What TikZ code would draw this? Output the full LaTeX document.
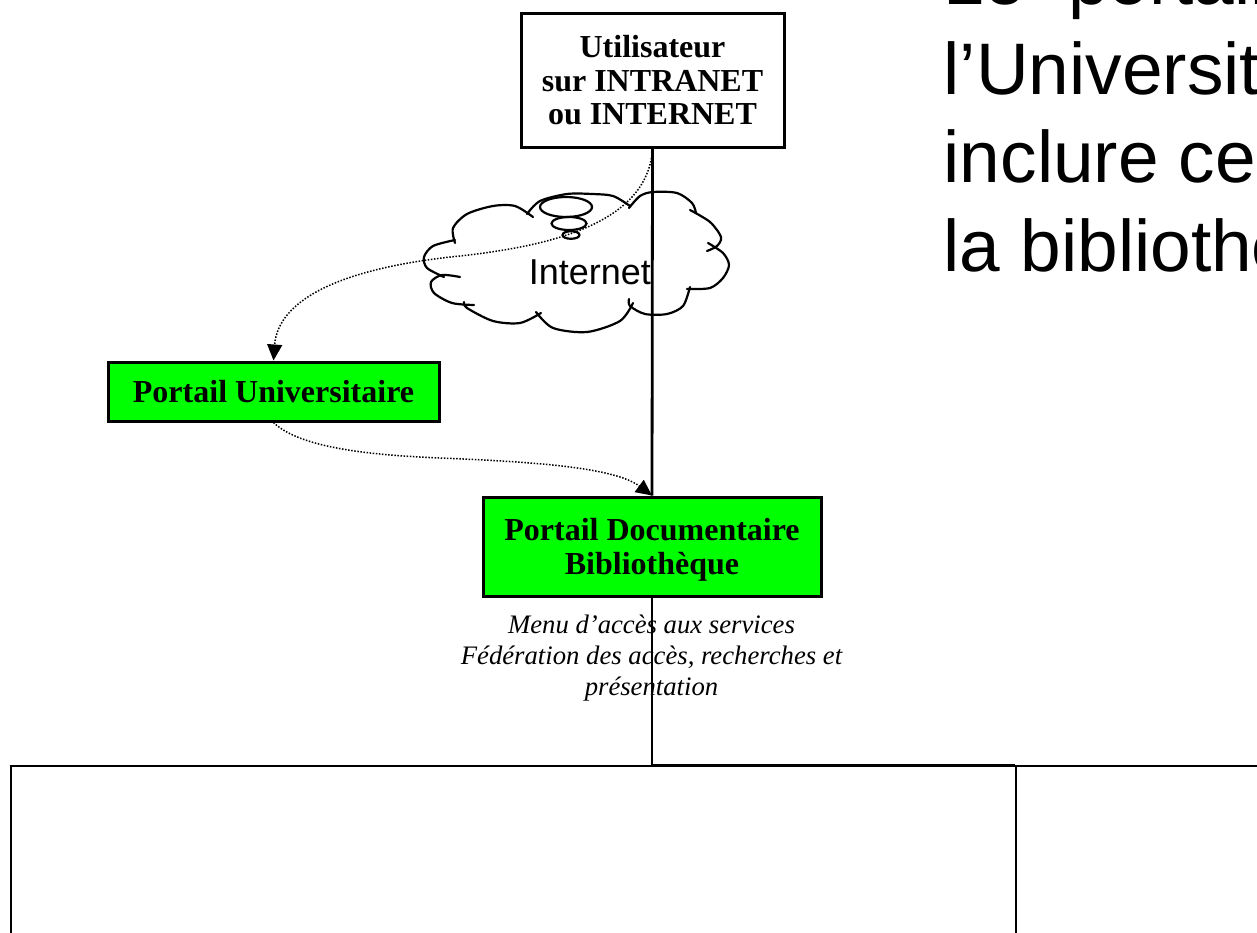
\documentclass[tikz,border=0pt]{standalone}
\usepackage{fontspec}
\setmainfont{Liberation Serif}
\newfontfamily\arialfont{Liberation Sans}
\usetikzlibrary{arrows.meta}
\definecolor{portalgreen}{RGB}{0,255,0}
\tikzset{
  frame/.style={draw=black, line width=3pt, inner sep=0pt, align=center,
    font=\bfseries\fontsize{32}{33.3}\selectfont},
  greenbox/.style={frame, fill=portalgreen},
  panel/.style={draw=black, line width=2pt, inner sep=0pt},
  link/.style={draw=black, line width=1.5pt, dash pattern=on 1.5pt off 1.6pt,
    -{Triangle[length=16pt,width=15pt]}},
  trunk/.style={draw=black, line width=2.8pt},
  cloudline/.style={draw=black, line width=2.2pt, line cap=round},
  headline/.style={font=\arialfont\fontsize{73}{88}\selectfont, anchor=base west, inner sep=0pt},
  note/.style={font=\itshape\fontsize{26.7}{31}\selectfont, align=center, inner sep=0pt},
}
\begin{document}
\begin{tikzpicture}[x=1pt,y=-1pt]
\useasboundingbox (0,0) rectangle (1257,933);
\clip (0,0) rectangle (1257,933);

% slide title on the right
\node[headline] (t1) at (943.5,5) {Le\hspace{23pt} portail};
\node[headline] (t2) at (943.5,95) {l’Université};
\node[headline] (t3) at (943.5,183) {inclure celui};
\node[headline] (t4) at (943.5,271) {la bibliothèque};

% Internet cloud
\draw[cloudline] plot[smooth] coordinates {(455,243) (453,228) (467,214) (493,206) (515,206) (533,217)};
\draw[cloudline] plot[smooth] coordinates {(527,214) (540,201) (567,194) (592,194) (613,196) (630,206)};
\draw[cloudline] plot[smooth] coordinates {(629,208) (640,196) (653,192) (677,193) (692,203) (696,213)};
\draw[cloudline] plot[smooth] coordinates {(690,210) (710,222) (721,237) (717,246) (707,251)};
\draw[cloudline] plot[smooth] coordinates {(708,243) (723,253) (729,265) (723,278) (710,288) (687,289)};
\draw[cloudline] plot[smooth] coordinates {(690,287) (683,306) (667,314) (645,314) (630,306) (629,299)};
\draw[cloudline] plot[smooth] coordinates {(633,303) (620,321) (587,332) (553,328) (536,312)};
\draw[cloudline] plot[smooth] coordinates {(541,313) (520,323) (493,321) (467,308) (464,302)};
\draw[cloudline] plot[smooth] coordinates {(474,305) (452,303) (434,293) (431,282) (442,275) (460,277)};
\draw[cloudline] plot[smooth] coordinates {(444,277) (427,268) (424,257) (433,246) (455,240)};
\draw[cloudline] (566,207) ellipse [x radius=26pt, y radius=10pt];
\draw[cloudline] (569,223.5) ellipse [x radius=17.5pt, y radius=6.5pt];
\draw[cloudline] (571,235) ellipse [x radius=8.5pt, y radius=3.8pt];
\node[font=\arialfont\fontsize{36}{40}\selectfont, anchor=base west, inner sep=0pt] (inet) at (528.6,284) {Internet};

% boxes
\node[frame, fill=white, minimum width=263pt, minimum height=134pt] (user) at (652.5,80.3)
  {Utilisateur\\sur INTRANET\\ou INTERNET};
\node[greenbox, minimum width=331pt, minimum height=59pt] (univ) at (273.5,391.5)
  {Portail Universitaire};
\node[greenbox, minimum width=338pt, minimum height=99pt, text depth=0pt] (doc) at (652,546.5)
  {Portail Documentaire\\Bibliothèque};
\node[note] (desc) at (651.5,657.8)
  {Menu d’accès aux services\\Fédération des accès, recherches et\\présentation};

% lower panels
\node[panel, anchor=north west, minimum width=1005pt, minimum height=300pt] (lpanel) at (10,765) {};
\node[panel, anchor=north west, minimum width=400pt, minimum height=300pt] (rpanel) at (1015,765) {};

% connectors
\draw[trunk] (user.south) -- (doc.north);
\draw[trunk] (doc.south) |- (rpanel.north west);
\draw[link] (user.south) .. controls (648,220) and (560,245) .. (460,256)
  .. controls (340,268) and (278,300) .. (univ.north);
\draw[link] (univ.south) .. controls (300,448) and (370,455) .. (440,458)
  .. controls (540,462) and (615,468) .. (doc.north);
\end{tikzpicture}
\end{document}
